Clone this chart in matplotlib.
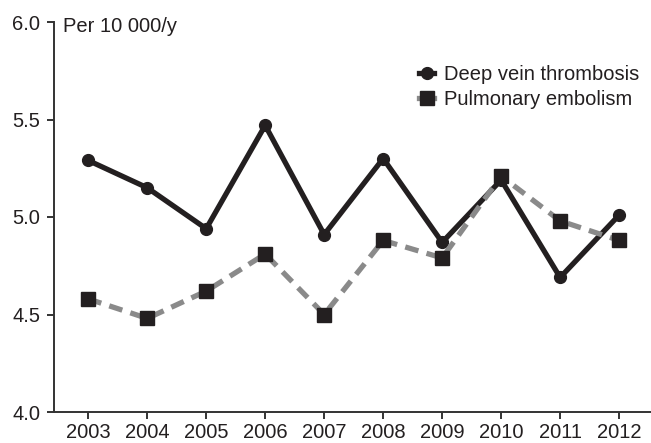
import matplotlib
matplotlib.use("Agg")
import matplotlib.pyplot as plt
from matplotlib.lines import Line2D

years = [2003, 2004, 2005, 2006, 2007, 2008, 2009, 2010, 2011, 2012]
dvt = [5.29, 5.15, 4.94, 5.47, 4.91, 5.30, 4.87, 5.19, 4.69, 5.01]
pe = [4.58, 4.48, 4.62, 4.81, 4.50, 4.88, 4.79, 5.21, 4.98, 4.88]
yticks = [4.0, 4.5, 5.0, 5.5, 6.0]
labels = ["Deep vein thrombosis", "Pulmonary embolism"]
ylabel = "Per 10 000/y"

plt.rcParams['font.family'] = ['Liberation Sans', 'DejaVu Sans']
plt.rcParams['font.size'] = 15

dark = "#231f20"
gray = "#8a8a8a"

fig = plt.figure(figsize=(6.51, 4.43), dpi=100)
ax = fig.add_axes([54/651, 31/443, 1 - 54/651, (412-22)/443])

ax.plot(years, dvt, color=dark, lw=3.8, marker='o', ms=8.5, mfc=dark, mec=dark,
        solid_joinstyle='miter', zorder=2)
ax.plot(years, pe, color=gray, lw=3.8, dashes=(2.6, 1.6), dash_capstyle='butt',
        marker='s', ms=9.5, mfc=dark, mec=dark, zorder=3)

ax.set_xlim(2002.42, 2012.54)
ax.set_ylim(4.0, 6.0)
ax.set_xticks(years)
ax.set_xticklabels([str(y) for y in years])
ax.set_yticks(yticks)
ax.set_yticklabels([f"{v:.1f}" for v in yticks])

for s in ['top', 'right']:
    ax.spines[s].set_visible(False)
for s in ['left', 'bottom']:
    ax.spines[s].set_color("#333333")
    ax.spines[s].set_linewidth(1.4)
ax.tick_params(axis='both', direction='out', length=5, width=1.4, color="#333333",
               labelcolor=dark, labelsize=14.5)
ax.tick_params(axis='x', pad=3)
ax.tick_params(axis='y', pad=5)

ax.text(63/651, 1 - 27/443, ylabel, transform=fig.transFigure, ha='left', va='center',
        fontsize=14.5, color=dark)

handles = [
    Line2D([], [], color=dark, lw=3.8, marker='o', ms=8.5, mfc=dark, mec=dark),
    Line2D([], [], color=gray, lw=3.8, marker='s', ms=9.5, mfc=dark, mec=dark),
]
fig.legend(handles, labels, loc='upper left', bbox_to_anchor=(419/651, 1 - 65/443),
           frameon=False, handlelength=0.75, handletextpad=0.5, borderpad=0,
           borderaxespad=0, labelspacing=0.3, fontsize=14.5, labelcolor=dark)

fig.savefig("out.png", dpi=100)
